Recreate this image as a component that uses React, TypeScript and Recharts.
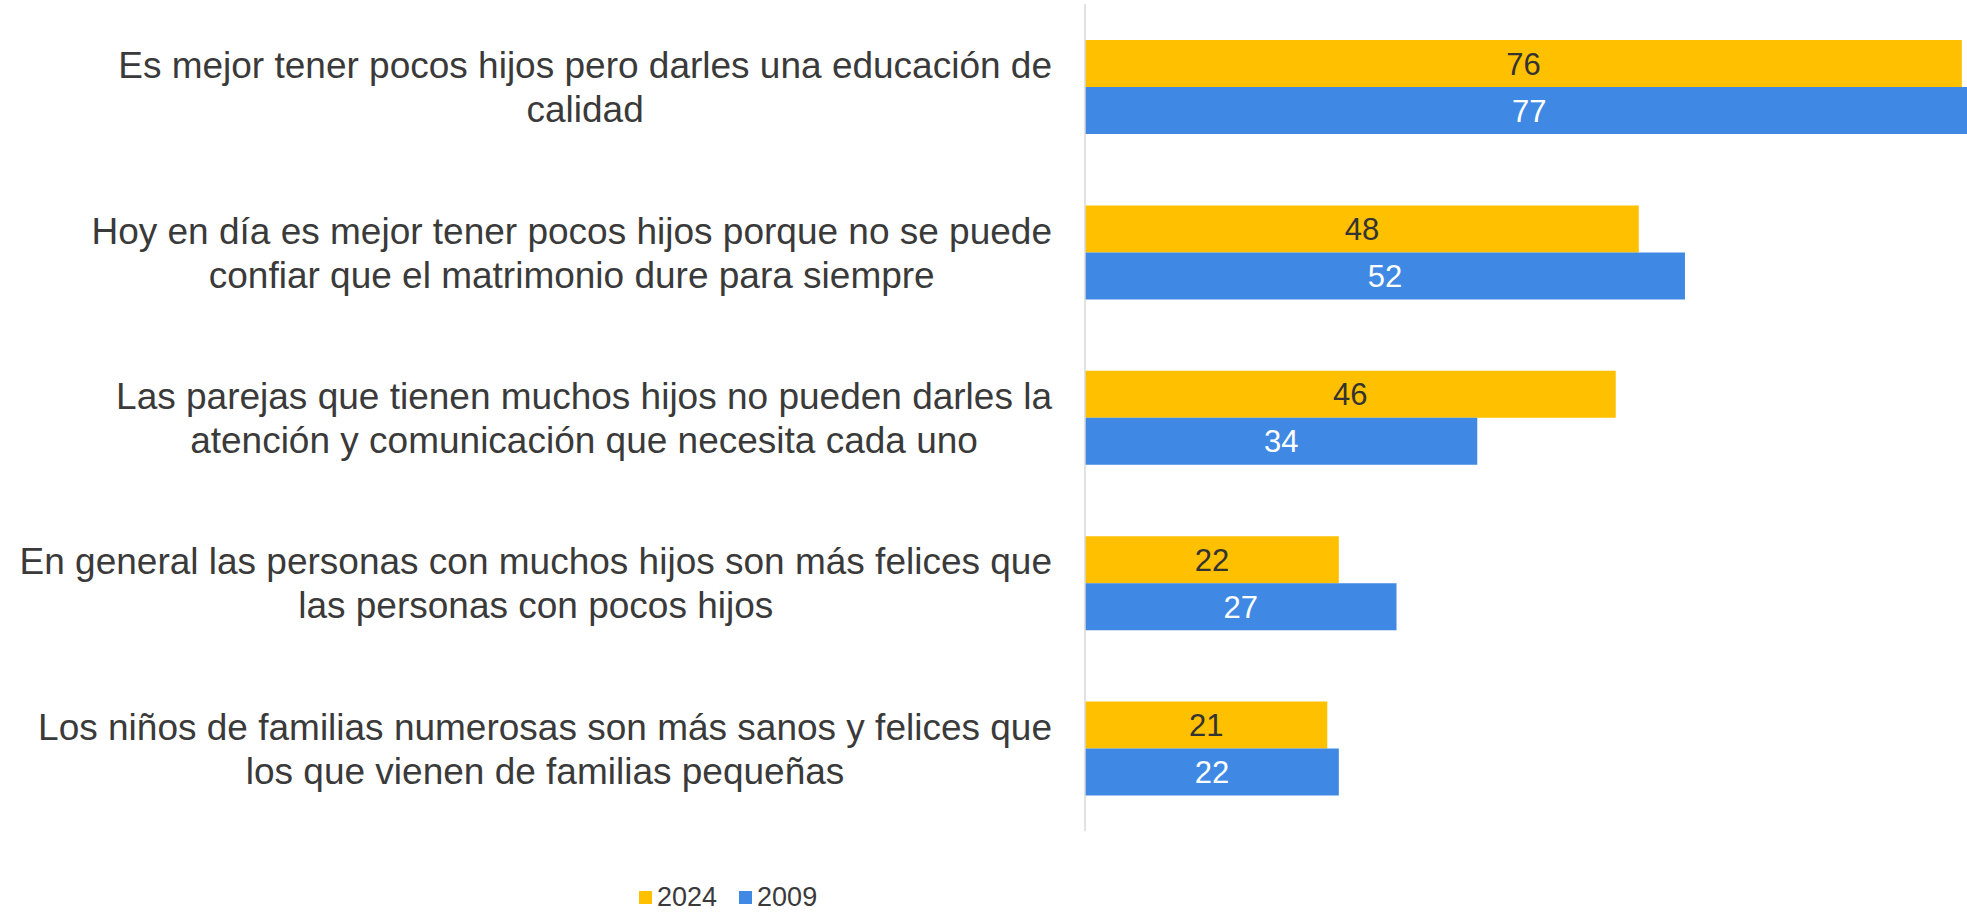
import { BarChart, Bar, XAxis, YAxis, LabelList } from 'recharts'

const FONT = '"Liberation Sans", Arial, sans-serif'

// two-line category labels, wrapped as in the reference
const labelLines: string[][] = [
  ['Es mejor tener pocos hijos pero darles una educación de', 'calidad'],
  ['Hoy en día es mejor tener pocos hijos porque no se puede', 'confiar que el matrimonio dure para siempre'],
  ['Las parejas que tienen muchos hijos no pueden darles la', 'atención y comunicación que necesita cada uno'],
  ['En general las personas con muchos hijos son más felices que', 'las personas con pocos hijos'],
  ['Los niños de familias numerosas son más sanos y felices que', 'los que vienen de familias pequeñas'],
]
const values2024 = [76, 48, 46, 22, 21]
const values2009 = [77, 52, 34, 27, 22]
const seriesNames = ['2024', '2009']

const YELLOW = '#FFC000'
const BLUE = '#3F89E4'
const TEXT = '#3a3a3a'

const data = labelLines.map((lines, i) => ({
  name: lines.join(' '),
  y2024: values2024[i],
  y2009: values2009[i],
}))

const LABEL_SIZE = 37
const LABEL_RIGHT = 1052

let ctx: CanvasRenderingContext2D | null = null
function textWidth(s: string) {
  if (!ctx) ctx = document.createElement('canvas').getContext('2d')
  if (!ctx) return s.length * LABEL_SIZE * 0.5
  ctx.font = `${LABEL_SIZE}px ${FONT}`
  return ctx.measureText(s).width
}

function CategoryTick(props: any) {
  const { y, index } = props
  const lines = labelLines[index] || []
  const maxW = Math.max(...lines.map(textWidth))
  const cx = LABEL_RIGHT - maxW / 2
  return (
    <text x={cx} y={y} textAnchor="middle" fill={TEXT} fontSize={LABEL_SIZE} fontFamily={FONT}>
      {lines.map((l, i) => (
        <tspan key={i} x={cx} y={y + (i === 0 ? -21 : 23)} dominantBaseline="central">
          {l}
        </tspan>
      ))}
    </text>
  )
}

function ChartLegend() {
  const colors = [YELLOW, BLUE]
  return (
    <div
      style={{
        position: 'absolute', left: 639, top: 884, display: 'flex', alignItems: 'center',
        fontFamily: FONT, fontSize: 27, color: TEXT, lineHeight: '26px',
      }}
    >
      {seriesNames.map((n, i) => (
        <div key={n} style={{ display: 'flex', alignItems: 'center', marginRight: 22 }}>
          <span style={{ width: 13, height: 13, background: colors[i], marginRight: 5, display: 'inline-block' }} />
          <span>{n}</span>
        </div>
      ))}
    </div>
  )
}

export default function App() {
  return (
    <div style={{ position: 'fixed', left: 0, top: 0, width: 1967, height: 912, overflow: 'hidden', background: '#fff', fontFamily: FONT }}>
      <BarChart
        width={2008}
        height={912}
        data={data}
        layout="vertical"
        margin={{ top: 4, right: 0, bottom: 81, left: 0 }}
        barGap={0}
      >
        <XAxis type="number" domain={[0, 80]} hide />
        <YAxis
          type="category"
          dataKey="name"
          width={1085}
          interval={0}
          tickLine={false}
          axisLine={{ stroke: '#d9d9d9', strokeWidth: 1.5 }}
          tick={<CategoryTick />}
        />
        <Bar dataKey="y2024" name="2024" fill={YELLOW} barSize={47} isAnimationActive={false}>
          <LabelList dataKey="y2024" position="center" fill="#333" fontSize={31} fontFamily={FONT} />
        </Bar>
        <Bar dataKey="y2009" name="2009" fill={BLUE} barSize={47} isAnimationActive={false}>
          <LabelList dataKey="y2009" position="center" fill="#fff" fontSize={31} fontFamily={FONT} />
        </Bar>
      </BarChart>
      <ChartLegend />
    </div>
  )
}
